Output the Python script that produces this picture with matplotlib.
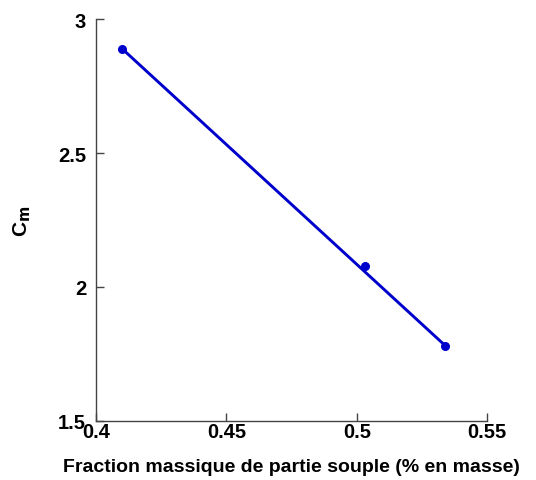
import matplotlib.pyplot as plt

# measured points
fraction = [0.41, 0.503, 0.534]
cm = [2.89, 2.08, 1.78]

# linear fit line endpoints
fit_x = [0.41, 0.534]
fit_y = [2.89, 1.78]

xticks = [0.4, 0.45, 0.5, 0.55]
xticklabels = ['0.4', '0.45', '0.5', '0.55']
yticks = [1.5, 2, 2.5, 3]
yticklabels = ['1.5', '2', '2.5', '3']

plt.rcParams['font.family'] = ['Liberation Sans', 'DejaVu Sans']
plt.rcParams['font.weight'] = 'bold'

fig = plt.figure(figsize=(5.36, 4.81), dpi=100)
ax = fig.add_axes([0.179, 0.123, 0.730, 0.835])

ax.plot(fit_x, fit_y, color='#0000cc', linewidth=2.1)
ax.plot(fraction, cm, 'o', color='#0000cc', markersize=5.5)

ax.set_xlim(0.4, 0.55)
ax.set_ylim(1.5, 3)
ax.set_xticks(xticks)
ax.set_xticklabels(xticklabels, fontsize=14.5, fontweight='bold')
ax.set_yticks(yticks)
ax.set_yticklabels(yticklabels, fontsize=14.5, fontweight='bold')

for side in ['top', 'right']:
    ax.spines[side].set_visible(False)
for side in ['left', 'bottom']:
    ax.spines[side].set_color('#444444')
    ax.spines[side].set_linewidth(1.0)

ax.tick_params(direction='in', length=5.5, width=1.0, color='#444444')
ax.tick_params(axis='x', pad=1)
ax.tick_params(axis='y', pad=7)

ax.set_xlabel('Fraction massique de partie souple (% en masse)',
              fontsize=14, fontweight='bold', labelpad=12)
ax.set_ylabel(r'C$_\mathbf{m}$', fontsize=15, fontweight='bold', labelpad=18)

plt.savefig('out.png', dpi=100)
